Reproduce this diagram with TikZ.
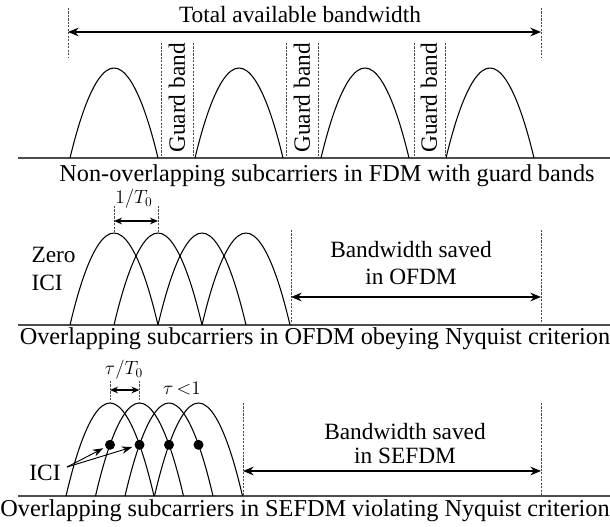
\documentclass[tikz,border=0pt]{standalone}
\usepackage{fontspec}
\setmainfont{Liberation Serif}
\usetikzlibrary{arrows.meta}

\tikzset{every picture/.style={line width=0.75pt}}
\tikzset{
  guide/.style={dash pattern=on 1.6pt off 1pt, line width=0.4pt, color=black!70},
  span/.style={{Stealth[length=8pt,width=6.5pt]}-{Stealth[length=8pt,width=6.5pt]}, line width=0.9pt},
  tick/.style={{Stealth[length=6pt,width=5pt]}-{Stealth[length=6pt,width=5pt]}, line width=0.9pt},
  pointer/.style={-{Stealth[length=8pt,width=5.5pt]}, line width=0.7pt, shorten >=1.5pt},
  lobe/.style={line width=0.8pt},
  axis/.style={line width=0.8pt, color=black!70},
  txt/.style={inner sep=0.75pt, font=\fontsize{17.5}{21}\selectfont},
  captext/.style={inner sep=0.75pt, font=\fontsize{18.2}{21}\selectfont},
  mth/.style={inner sep=0.75pt, font=\fontsize{14.5}{16}\selectfont},
  dot/.style={circle, fill=black, inner sep=0pt, minimum size=7.5pt},
}

\begin{document}
\begin{tikzpicture}[x=0.75pt,y=0.75pt,yscale=-1,xscale=1]
\useasboundingbox (0,0) rectangle (610,527);

%% FDM with guard bands
\draw[axis] (18,158) -- (610,158) ;
\coordinate (fdmL) at (68,32) ;
\coordinate (fdmR) at (541,32) ;
\draw[guide] (68,8) -- (68,57) (541,8) -- (541,57) ;
\draw[span] (fdmL) -- (fdmR) ;
% Text Node
\node[txt] (total) at (300,15) {Total available bandwidth};
% lobes
\draw[lobe] (70,158) parabola bend (114,68) (158,158) ;
\draw[lobe] (195,158) parabola bend (239,68) (283,158) ;
\draw[lobe] (321,158) parabola bend (365,68) (409,158) ;
\draw[lobe] (446,158) parabola bend (490,68) (534,158) ;
% guard bands
\draw[guide] (161,43) -- (161,158) (193,43) -- (193,158) ;
\draw[guide] (286,43) -- (286,158) (318,43) -- (318,158) ;
\draw[guide] (414,43) -- (414,158) (445,43) -- (445,158) ;
\node[txt, rotate=90] (guardA) at (177,98) {Guard band};
\node[txt, rotate=90] (guardB) at (302,98) {Guard band};
\node[txt, rotate=90] (guardC) at (429,98) {Guard band};
% Text Node
\node[captext] (capFDM) at (327,175.5) {Non-overlapping subcarriers in FDM with guard bands};

%% OFDM
\draw[axis] (18,325) -- (610,325) ;
\draw[lobe] (70,325) parabola bend (114,233) (158,325) ;
\draw[lobe] (114,325) parabola bend (158,233) (202,325) ;
\draw[lobe] (158,325) parabola bend (202,233) (246,325) ;
\draw[lobe] (202,325) parabola bend (246,233) (290,325) ;
% spacing
\draw[guide] (114,206) -- (114,233) (158,206) -- (158,233) ;
\coordinate (invL) at (114,221) ;
\coordinate (invR) at (158,221) ;
\draw[tick] (invL) -- (invR) ;
\node[mth] (invT) at (134,199) {$1/T_0$};
% saved band
\draw[guide] (291,230) -- (291,325) (541,230) -- (541,325) ;
\coordinate (savOL) at (291,297) ;
\coordinate (savOR) at (541,297) ;
\draw[span] (savOL) -- (savOR) ;
\node[txt] (savedO) at (411,250) {Bandwidth saved};
\node[txt] (savedOb) at (411,277) {in OFDM};
\node[txt, anchor=west] (zero) at (30,255) {Zero};
\node[txt, anchor=west] (iciO) at (30,283) {ICI};
% Text Node
\node[captext] (capOFDM) at (315,339) {Overlapping subcarriers in OFDM obeying Nyquist criterion};

%% SEFDM
\draw[axis] (18,496) -- (610,496) ;
\draw[lobe] (66,496) parabola bend (110,403) (154,496) ;
\draw[lobe] (95.5,496) parabola bend (139.5,403) (183.5,496) ;
\draw[lobe] (125,496) parabola bend (169,403) (213,496) ;
\draw[lobe] (154.5,496) parabola bend (198.5,403) (242.5,496) ;
% ICI points
\node[dot] (d1) at (110,444.8) {};
\node[dot] (d2) at (139.5,444.8) {};
\node[dot] (d3) at (169,444.8) {};
\node[dot] (d4) at (198.5,444.8) {};
% spacing
\draw[guide] (110,381) -- (110,403) (139.5,381) -- (139.5,403) ;
\coordinate (tauL) at (110,390) ;
\coordinate (tauR) at (139.5,390) ;
\draw[tick] (tauL) -- (tauR) ;
\node[mth] (tauT) at (124,370) {$\tau/T_0$};
\node[mth] (tauless) at (182,389) {$\tau\,{<}1$};
% ICI arrows
\node[txt] (iciS) at (45,473) {ICI};
\coordinate (iciFrom) at (67,467) ;
\draw[pointer] (iciFrom) -- (d1) ;
\draw[pointer] (iciFrom) -- (d2) ;
% saved band
\draw[guide] (243,403) -- (243,496) (541,403) -- (541,496) ;
\coordinate (savSL) at (243,471) ;
\coordinate (savSR) at (541,471) ;
\draw[span] (savSL) -- (savSR) ;
\node[txt] (savedS) at (405,432) {Bandwidth saved};
\node[txt] (savedSb) at (405,456) {in SEFDM};
% Text Node
\node[captext] (capSEFDM) at (305,511) {Overlapping subcarriers in SEFDM violating Nyquist criterion};

\end{tikzpicture}
\end{document}
